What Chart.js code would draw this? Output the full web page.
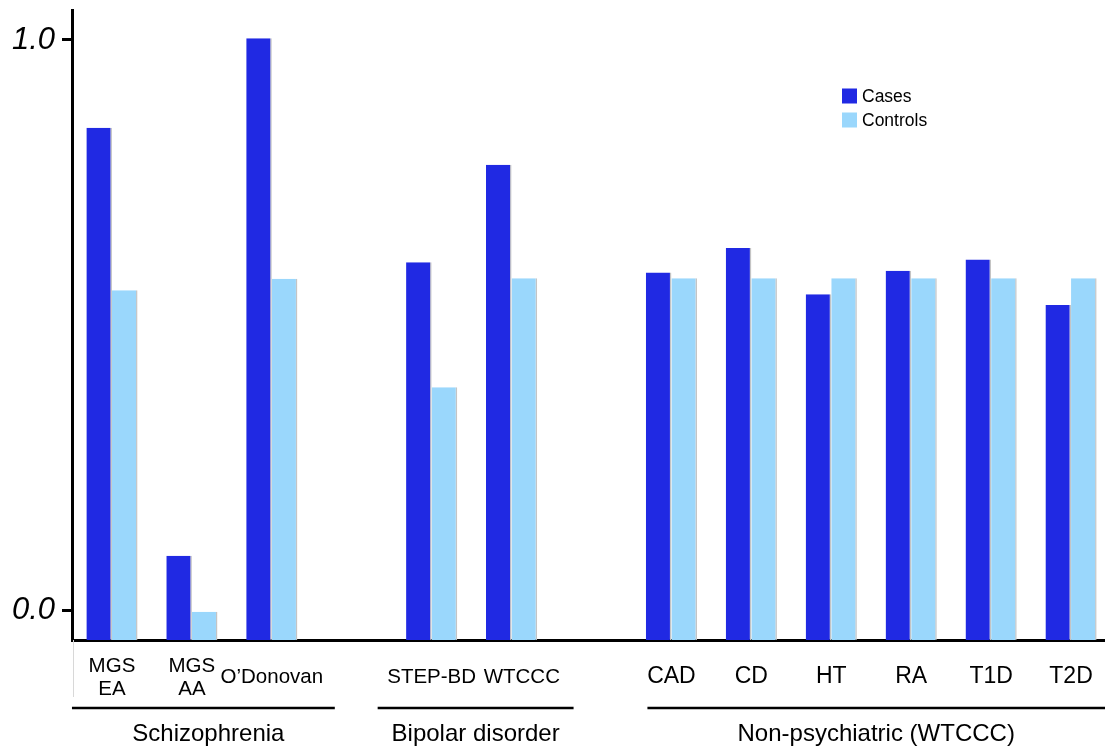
<!DOCTYPE html>
<html>
<head>
<meta charset="utf-8">
<script src="https://cdn.jsdelivr.net/npm/chart.js@4"></script>
<style>
  html, body { margin: 0; padding: 0; background: #fff; overflow: hidden; }
  #wrap { width: 1112px; height: 746px; }
</style>
</head>
<body>
<div id="wrap"><canvas id="chart" width="1112" height="746"></canvas></div>
<script>
// Categories ('' = spacer between groups)
const labels = [['MGS', 'EA'], ['MGS', 'AA'], 'O\u2019Donovan', '', 'STEP-BD', '\u2003WTCCC', '',
    'CAD', 'CD', 'HT', 'RA', 'T1D', 'T2D'];
const cases = [0.846, 0.095, 1.003, null, 0.610, 0.781, null, 0.592, 0.635, 0.554, 0.595, 0.615, 0.535];
const controls = [0.561, -0.003, 0.581, null, 0.391, 0.582, null, 0.582, 0.582, 0.582, 0.582, 0.582, 0.582];
const yTicks = [0, 1];

// Groups under the axis: [name, first index, last index, left pad, right pad]
const groups = [
    ['Schizophrenia', 0, 2, 40, 63],
    ['Bipolar disorder', 4, 5, 54, 62],
    ['Non-psychiatric (WTCCC)', 7, 12, 24, 60]
];

const yMin = -0.0526, yMax = 1.0526;
const font = 'Liberation Sans, Arial, Helvetica, sans-serif';

// brackets + group names below the category labels
const groupPlugin = {
    id: 'groups',
    afterDraw(chart) {
        const ctx = chart.ctx;
        const x = chart.scales.x;
        ctx.save();
        // thin grey rule left of the first category
        ctx.strokeStyle = '#d8d8d8';
        ctx.lineWidth = 1;
        ctx.beginPath();
        ctx.moveTo(73.5, chart.chartArea.bottom);
        ctx.lineTo(73.5, 697);
        ctx.stroke();

        ctx.strokeStyle = '#000';
        ctx.lineWidth = 2.5;
        ctx.fillStyle = '#000';
        ctx.font = '24px ' + font;
        ctx.textAlign = 'center';
        ctx.textBaseline = 'middle';
        groups.forEach(g => {
            const x0 = x.getPixelForValue(g[1]) - g[3];
            const x1 = x.getPixelForValue(g[2]) + g[4];
            ctx.beginPath();
            ctx.moveTo(x0, 708);
            ctx.lineTo(x1, 708);
            ctx.stroke();
            ctx.fillText(g[0], (x0 + Math.min(x1, 1105)) / 2 + (g[1] === 0 ? 5 : 0), 734);
        });
        ctx.restore();
    }
};

// small legend inside the plot
const legendPlugin = {
    id: 'miniLegend',
    afterDraw(chart) {
        const ctx = chart.ctx;
        ctx.save();
        ctx.font = '17.5px ' + font;
        ctx.textBaseline = 'middle';
        chart.data.datasets.forEach((ds, i) => {
            const y = 96 + i * 24;
            ctx.fillStyle = ds.backgroundColor;
            ctx.fillRect(842, y - 7.5, 15, 15);
            ctx.fillStyle = '#000';
            ctx.fillText(ds.label, 862, y + 1);
        });
        ctx.restore();
    }
};

const ctx = document.getElementById('chart').getContext('2d');
new Chart(ctx, {
    type: 'bar',
    data: {
        labels: labels,
        datasets: [
            {
                label: 'Cases',
                data: cases,
                backgroundColor: '#2029E3',
                borderColor: '#c4c4c4',
                borderWidth: { right: 1.5 },
                base: yMin
            },
            {
                label: 'Controls',
                data: controls,
                backgroundColor: '#9AD7FC',
                borderColor: '#c4c4c4',
                borderWidth: { right: 1.5 },
                base: yMin
            }
        ]
    },
    options: {
        responsive: false,
        animation: false,
        layout: { padding: { top: 10, right: 1, left: 0, bottom: 0 } },
        plugins: {
            legend: { display: false },
            tooltip: { enabled: false }
        },
        datasets: {
            bar: { categoryPercentage: 0.64, barPercentage: 1.0 }
        },
        scales: {
            x: {
                offset: true,
                grid: { display: false, drawTicks: false },
                border: { display: true, color: '#000', width: 3 },
                ticks: {
                    color: '#000',
                    padding: 26,
                    crossAlign: 'center',
                    autoSkip: false,
                    maxRotation: 0,
                    font: c => ({ family: font, size: c.index >= 7 ? 23 : 20.5, lineHeight: 1.15 })
                },
                afterFit(scale) {
                    scale.height = 106;
                    scale.paddingLeft = 0;
                    scale.paddingRight = 0;
                }
            },
            y: {
                min: yMin,
                max: yMax,
                afterBuildTicks(scale) { scale.ticks = yTicks.map(v => ({ value: v })); },
                grid: {
                    drawOnChartArea: false,
                    drawTicks: true,
                    tickLength: 10,
                    color: '#000',
                    lineWidth: 3
                },
                border: { display: true, color: '#000', width: 3 },
                ticks: {
                    color: '#000',
                    padding: 7,
                    font: { family: font, size: 31, style: 'italic' },
                    callback: v => v.toFixed(1)
                },
                afterFit(scale) {
                    scale.width = 72;
                    scale.paddingTop = 0;
                    scale.paddingBottom = 0;
                }
            }
        }
    },
    plugins: [groupPlugin, legendPlugin]
});
</script>
</body>
</html>
